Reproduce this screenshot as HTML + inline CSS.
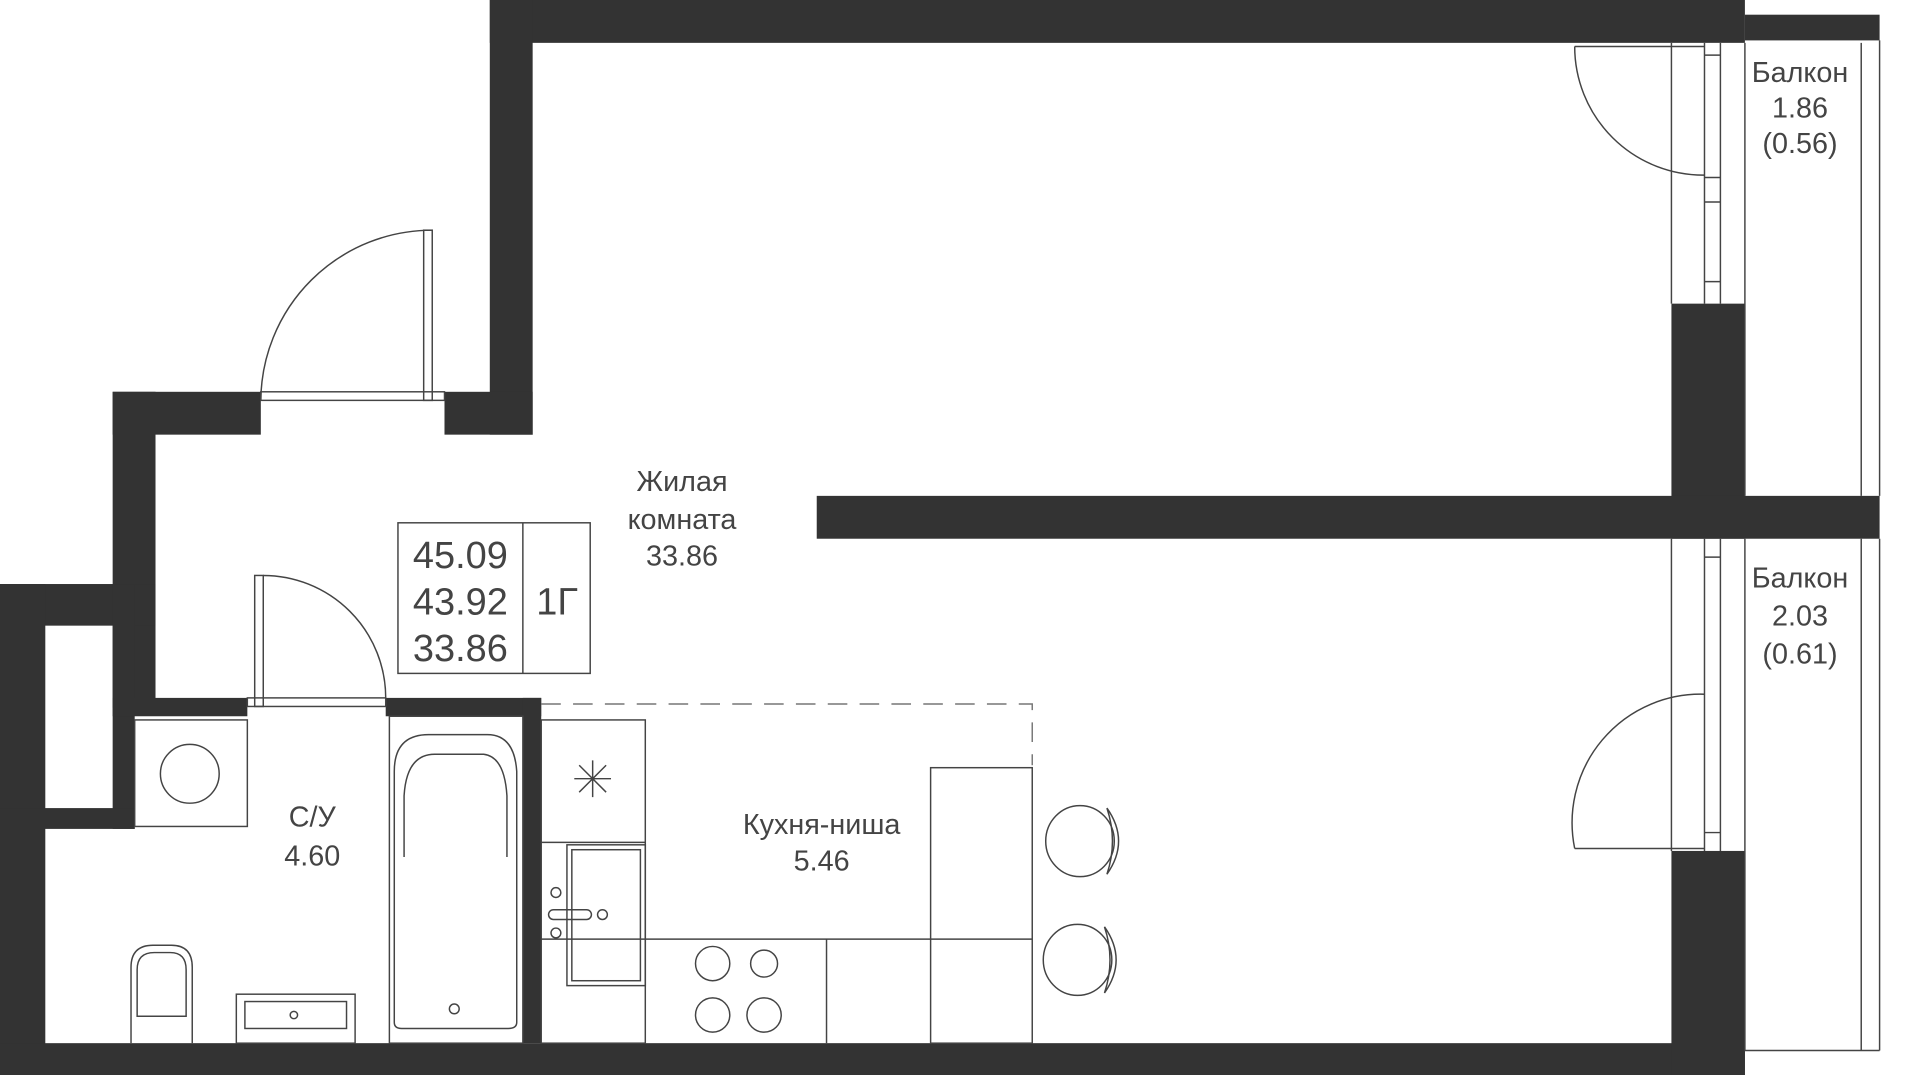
<!DOCTYPE html>
<html><head><meta charset="utf-8"><style>
html,body{margin:0;padding:0;background:#fff;}
svg{display:block}
text{font-family:"Liberation Sans",sans-serif;fill:#444;}
</style></head><body>
<svg width="1920" height="1075" viewBox="0 0 1568 878" preserveAspectRatio="none" xmlns="http://www.w3.org/2000/svg">
<g fill="#333">
<rect x="400" y="0" width="1025" height="35"/>
<rect x="1425" y="12" width="110" height="21"/>
<rect x="400" y="0" width="35" height="355"/>
<rect x="363" y="320" width="72" height="35"/>
<rect x="92" y="320" width="121" height="35"/>
<rect x="92" y="320" width="35" height="258"/>
<rect x="0" y="477" width="127" height="34"/>
<rect x="0" y="477" width="37" height="401"/>
<rect x="92" y="477" width="18" height="200"/>
<rect x="0" y="660" width="110" height="17"/>
<rect x="92" y="570" width="110" height="15"/>
<rect x="315" y="570" width="127" height="15"/>
<rect x="427" y="570" width="15" height="282"/>
<rect x="0" y="852" width="1425" height="26"/>
<rect x="1365" y="248" width="60" height="192"/>
<rect x="667" y="405" width="868" height="35"/>
<rect x="1365" y="695" width="60" height="183"/>
</g>
<g fill="none" stroke="#444" stroke-width="1.2">
<line x1="1365" y1="35" x2="1365" y2="248"/><line x1="1392" y1="35" x2="1392" y2="248"/><line x1="1405" y1="35" x2="1405" y2="248"/>
<line x1="1392" y1="45" x2="1405" y2="45"/><line x1="1392" y1="145" x2="1405" y2="145"/><line x1="1392" y1="165" x2="1405" y2="165"/><line x1="1392" y1="230" x2="1405" y2="230"/>
<line x1="1425" y1="35" x2="1425" y2="405"/>
<line x1="1520" y1="35" x2="1520" y2="405"/><line x1="1535" y1="33" x2="1535" y2="405"/>
<line x1="1365" y1="440" x2="1365" y2="695"/><line x1="1392" y1="440" x2="1392" y2="695"/><line x1="1405" y1="440" x2="1405" y2="695"/>
<line x1="1392" y1="455" x2="1405" y2="455"/><line x1="1392" y1="680" x2="1405" y2="680"/>
<line x1="1425" y1="440" x2="1425" y2="858"/>
<line x1="1520" y1="440" x2="1520" y2="858"/><line x1="1535" y1="440" x2="1535" y2="858"/>
<line x1="1425" y1="858" x2="1535" y2="858"/>
<rect x="213" y="320" width="150" height="7"/>
<rect x="346" y="188" width="7" height="139"/>
<path d="M213 327 A140 140 0 0 1 353 188"/>
<rect x="202" y="570" width="113" height="7"/>
<rect x="208" y="470" width="7" height="107"/>
<path d="M215 470 A100 100 0 0 1 315 570"/>
<path d="M1286 38 A105 105 0 0 0 1392 143"/>
<line x1="1286" y1="38" x2="1392" y2="38"/>
<path d="M1286 693 A105 105 0 0 1 1392 567"/>
<line x1="1286" y1="693" x2="1392" y2="693"/>
<rect x="325" y="427" width="157" height="123"/>
<line x1="427" y1="427" x2="427" y2="550"/>
<rect x="110" y="588" width="92" height="87"/>
<circle cx="155" cy="632" r="24"/>
<rect x="318" y="585" width="109" height="267"/>
<path d="M322 835 V630 Q322 600 350 600 H398 Q420 600 422 630 V835 Q422 840 415 840 H328 Q322 840 322 835Z"/>
<path d="M330 700 V650 Q332 616 355 616 H395 Q412 618 414 650 V700"/>
<circle cx="371" cy="824" r="4"/>
<path d="M107 852 V790 Q107 772 125 772 H140 Q157 772 157 790 V852"/>
<path d="M112 830 V792 Q112 778 126 778 H139 Q152 778 152 792 V830Z"/>
<rect x="193" y="812" width="97" height="40"/>
<rect x="200" y="818" width="83" height="22"/>
<circle cx="240" cy="829" r="3"/>
<path d="M442 575 H843 V625" stroke-dasharray="16 10" stroke="#777"/>
<rect x="442" y="588" width="85" height="264"/>
<line x1="442" y1="688" x2="527" y2="688"/>
<rect x="463" y="690" width="64" height="115"/>
<rect x="467" y="694" width="56" height="107"/>
<path d="M484 621 V651 M469 636 H499 M473 625 L495 647 M495 625 L473 647"/>
<rect x="448" y="743" width="35" height="8" rx="4"/>
<circle cx="454" cy="729" r="4"/><circle cx="454" cy="762" r="4"/><circle cx="492" cy="747" r="4"/>
<line x1="442" y1="767" x2="843" y2="767"/>
<line x1="675" y1="767" x2="675" y2="852"/>
<rect x="760" y="627" width="83" height="225"/>
<circle cx="582" cy="787" r="14"/><circle cx="624" cy="787" r="11"/>
<circle cx="582" cy="829" r="14"/><circle cx="624" cy="829" r="14"/>
<ellipse cx="882" cy="687" rx="28" ry="29"/>
<path d="M904 660 Q923 687 904 714 Q913 687 904 660Z"/>
<ellipse cx="880" cy="784" rx="28" ry="29"/>
<path d="M902 757 Q921 784 902 811 Q911 784 902 757Z"/>
</g>
<g font-size="23.5" text-anchor="middle">
<text x="557" y="401">Жилая</text>
<text x="557" y="432">комната</text>
<text x="557" y="462">33.86</text>
<text x="255" y="675">С/У</text>
<text x="255" y="707">4.60</text>
<text x="671" y="681">Кухня-ниша</text>
<text x="671" y="711">5.46</text>
<text x="1470" y="67">Балкон</text>
<text x="1470" y="96">1.86</text>
<text x="1470" y="125">(0.56)</text>
<text x="1470" y="480">Балкон</text>
<text x="1470" y="511">2.03</text>
<text x="1470" y="542">(0.61)</text>
</g>
<g font-size="31" text-anchor="middle">
<text x="376" y="464">45.09</text>
<text x="376" y="502">43.92</text>
<text x="376" y="540">33.86</text>
<text x="455" y="502">1Г</text>
</g>
</svg>
</body></html>
